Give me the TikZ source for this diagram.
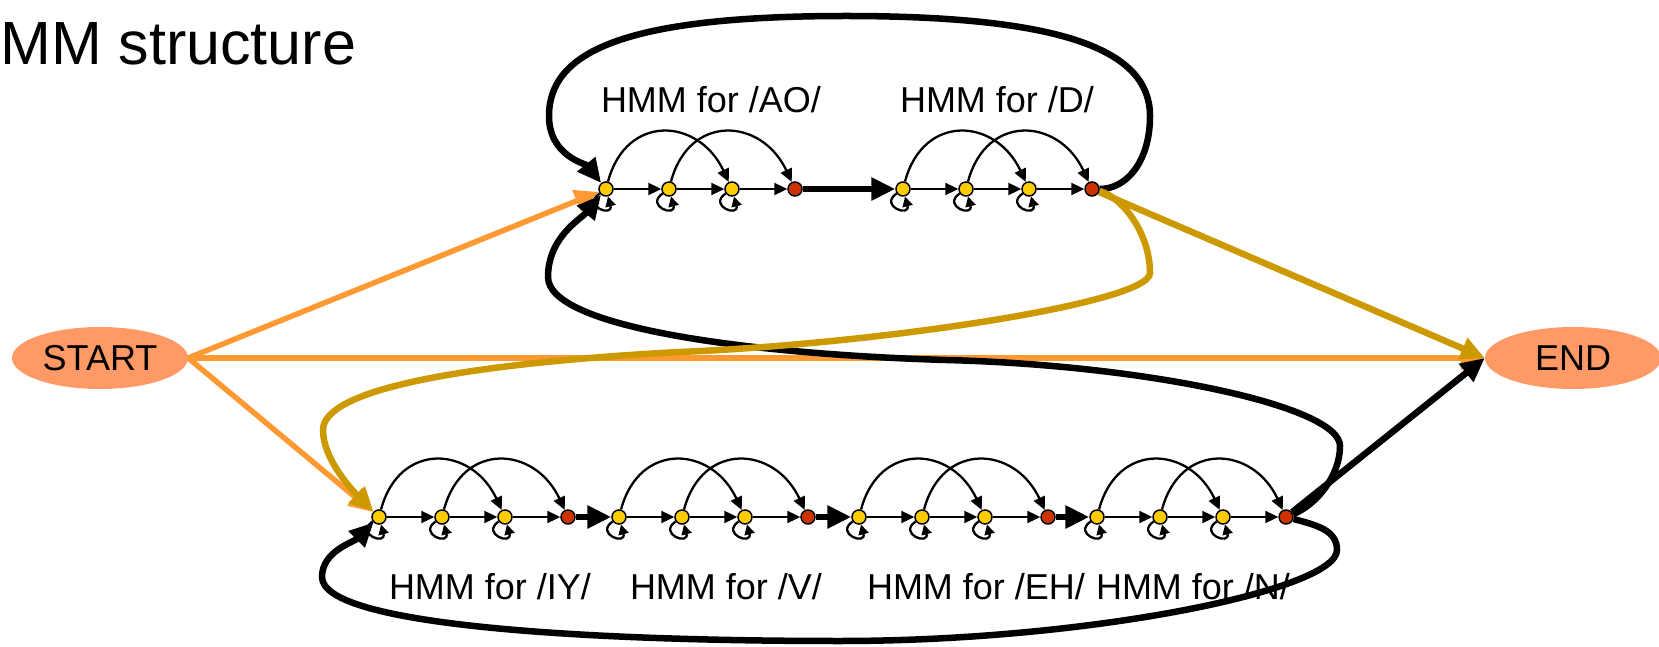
\documentclass[tikz,border=0pt]{standalone}
\usepackage{fontspec}
\setmainfont{Liberation Sans}
\usepackage{tikz}
\usetikzlibrary{shapes,arrows.meta}

\definecolor{salmon}{HTML}{FF9966}
\definecolor{orangeline}{HTML}{FF9933}
\definecolor{goldline}{HTML}{CC9900}
\definecolor{stateyellow}{HTML}{FFCC00}
\definecolor{statered}{HTML}{CC3300}

\pgfdeclarelayer{edges}
\pgfsetlayers{edges,main}

\tikzset{
  state/.style={circle, draw=black, line width=1.5pt, fill=stateyellow, minimum size=14pt, inner sep=0pt},
  final/.style={state, fill=statered},
  terminal/.style={ellipse, fill=salmon, minimum width=176pt, minimum height=62pt, inner sep=0pt, font=\fontsize{36}{40}\selectfont},
  hmmlabel/.style={anchor=base, inner sep=0pt, font=\fontsize{36}{40}\selectfont},
  thinarr/.style={line width=2.3pt, -{Triangle[length=13pt,width=12pt]}},
  selfarr/.style={line width=2.3pt, -{Triangle[length=10pt,width=10pt]}},
  bigarr/.style={line width=6.5pt, -{Triangle[length=24pt,width=22pt]}},
  startarr/.style={bigarr, orangeline, line width=5.5pt},
  endarr/.style={bigarr, goldline},
}

\begin{document}
\begin{tikzpicture}[x=1pt,y=1pt]
\useasboundingbox (0,0) rectangle (1659,646);
\node[anchor=base west, inner sep=0pt, font=\fontsize{61}{70}\selectfont] (title) at (0,581) {MM structure};

\node[terminal] (start) at (100,288) {START};
\node[terminal] (stop) at (1573,288) {END};

% phone models: three emitting states and an exit state each
\foreach \lab/\h/\x/\y/\lx/\ly in {AO/ao/606/457/711/533, D/d/903/457/997/533,
    IY/iy/379/129/490/47, V/v/619/129/726/47, EH/eh/859/129/976/47, N/n/1097/129/1193/47} {
  \foreach \i in {1,2,3}
    \node[state] (\h\i) at (\x+63*\i-63,\y) {};
  \node[final] (\h4) at (\x+189,\y) {};
  \node[hmmlabel] (lab\h) at (\lx,\ly) {HMM for /\lab/};
}

\begin{pgfonlayer}{edges}
% entries from START
\draw[startarr] (start.east) -- (ao1);
\draw[startarr] (start.east) -- (stop.west);
\draw[startarr] (start.east) -- (iy1);

% word loops
\draw[bigarr] (d4) .. controls +(35,0) and +(0,-45) .. (1150,530)
  .. controls +(0,65) and +(220,0) .. (846,630)
  .. controls +(-220,0) and +(0,65) .. (549,530)
  .. controls +(0,-40) and +(-20,25) .. (ao1);
\draw[bigarr] (n4) .. controls +(30,12) and +(0,-30) .. (1340,200)
  .. controls +(0,40) and +(200,-5) .. (946,286)
  .. controls +(-200,6) and +(0,-50) .. (548,369)
  .. controls +(0,40) and +(-25,-30) .. (ao1);
\draw[bigarr] (n4) .. controls +(30,-8) and +(0,20) .. (1337,96)
  .. controls +(0,-40) and +(250,0) .. (840,5)
  .. controls +(-250,0) and +(0,-49) .. (322,69)
  .. controls +(0,26) and +(-25,-25) .. (iy1);
\draw[bigarr] (n4) -- (stop.west);

% word ends after /D/
\draw[endarr] (d4) -- (stop.west);
\draw[endarr] (d4) .. controls +(30,-8) and +(0,40) .. (1150,373)
  .. controls +(0,-30) and +(200,8) .. (679,294)
  .. controls +(-220,-12) and +(0,40) .. (323,216)
  .. controls +(0,-30) and +(-25,25) .. (iy1);

% phone to phone
\draw[bigarr] (ao4) -- (d1);
\draw[bigarr] (iy4) -- (v1);
\draw[bigarr] (v4) -- (eh1);
\draw[bigarr] (eh4) -- (n1);

% inside each phone
\foreach \h in {ao,d,iy,v,eh,n} {
  \draw[thinarr] (\h1) -- (\h2);
  \draw[thinarr] (\h2) -- (\h3);
  \draw[thinarr] (\h3) -- (\h4);
  \draw[thinarr] (\h1) to[out=75,in=115,looseness=1.5] (\h3);
  \draw[thinarr] (\h2) to[out=75,in=115,looseness=1.5] (\h4);
  \foreach \i in {1,2,3}
    \draw[selfarr] (\h\i) to[out=215,in=285,distance=22pt] (\h\i);
}
\end{pgfonlayer}
\end{tikzpicture}
\end{document}
